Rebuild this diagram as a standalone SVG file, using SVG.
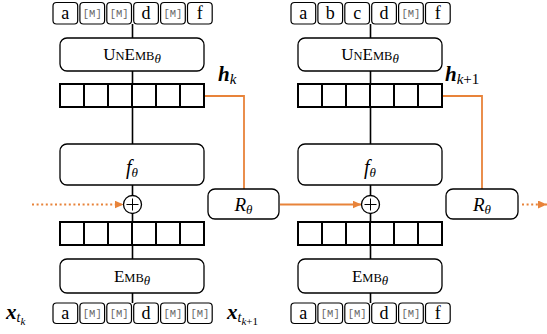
<svg xmlns="http://www.w3.org/2000/svg" width="547" height="334" viewBox="0 0 547 334">
<style>
.box{fill:#fff;stroke:#000;stroke-width:1.3}
.tok{fill:#fff;stroke:#000;stroke-width:1.2}
.vec{fill:#fff;stroke:#000;stroke-width:2}
.ln{stroke:#000;stroke-width:1.6;fill:none}
.or{stroke:#E8833A;stroke-width:1.8;fill:none}
.dot{stroke-dasharray:2 2.6}
.t{font-family:"Liberation Serif",serif;font-size:18px;text-anchor:middle;fill:#000}
.m{font-family:"Liberation Mono",monospace;font-size:10.5px;fill:#666;text-anchor:middle}
.lab{font-family:"Liberation Serif",serif;fill:#000}
.sc{font-size:12.5px}
.sub{font-size:13px;font-style:italic}
</style>
<defs>
<marker id="ah" markerWidth="9" markerHeight="8" refX="9" refY="4" orient="auto" markerUnits="userSpaceOnUse">
<path d="M0,0 L9,4 L0,8 z" fill="#E8833A"/>
</marker>
</defs>

<g id="connectors">
<line class="ln" x1="132.5" y1="24" x2="132.5" y2="303"/>
<line class="ln" x1="370.5" y1="24" x2="370.5" y2="303"/>
<path class="or" d="M204,96 H244 V189"/>
<path class="or" d="M442,96 H482 V189"/>
<line class="or dot" x1="32" y1="204.5" x2="123.5" y2="204.5" marker-end="url(#ah)"/>
<line class="or" x1="280" y1="204.5" x2="361.5" y2="204.5" marker-end="url(#ah)"/>
<line class="or dot" x1="522" y1="204.5" x2="547" y2="204.5" marker-end="url(#ah)"/>
</g>

<!-- left column -->
<g id="tokens-top-k">
<rect class="tok" x="53" y="2.5" width="24.7" height="21.5" rx="3.5"/>
<rect class="tok" x="79.9" y="2.5" width="24.7" height="21.5" rx="3.5"/>
<rect class="tok" x="106.8" y="2.5" width="24.7" height="21.5" rx="3.5"/>
<rect class="tok" x="133.7" y="2.5" width="24.7" height="21.5" rx="3.5"/>
<rect class="tok" x="160.6" y="2.5" width="24.7" height="21.5" rx="3.5"/>
<rect class="tok" x="187.5" y="2.5" width="24.7" height="21.5" rx="3.5"/>
<text class="t" x="65.35" y="19">a</text>
<text class="m" x="92.25" y="17">[M]</text>
<text class="m" x="119.15" y="17">[M]</text>
<text class="t" x="146.05" y="19">d</text>
<text class="m" x="172.95" y="17">[M]</text>
<text class="t" x="199.85" y="19">f</text>
</g>
<g id="unemb-k">
<rect class="box" x="60" y="38" width="144" height="33" rx="7"/>
<text class="lab" x="132" y="60" text-anchor="middle" font-size="17">U<tspan class="sc">N</tspan>E<tspan class="sc">MB</tspan><tspan class="sub" dy="3">θ</tspan></text>
</g>
<g id="hk">
<rect class="vec" x="60" y="84" width="144" height="23"/>
<path class="ln" style="stroke-width:2" d="M84,84V107M108,84V107M132,84V107M156,84V107M180,84V107"/>
<text class="lab" x="218" y="81" font-size="21" font-weight="bold" font-style="italic">h<tspan style="font-size:15px;font-weight:normal;font-style:italic" dy="3">k</tspan></text>
</g>
<g id="f-k">
<rect class="box" x="60" y="144" width="144" height="41" rx="7"/>
<text class="lab" x="132" y="174" text-anchor="middle" font-size="20" font-style="italic">f<tspan class="sub" dy="3">θ</tspan></text>
</g>
<g id="plus-k">
<circle cx="132.5" cy="204.5" r="9" fill="#fff" stroke="#000" stroke-width="1.3"/>
<path d="M126.5,204.5H138.5M132.5,198.5V210.5" stroke="#000" stroke-width="1"/>
</g>
<g id="emb-vec-k">
<rect class="vec" x="60" y="222" width="144" height="23"/>
<path class="ln" style="stroke-width:2" d="M84,222V245M108,222V245M132,222V245M156,222V245M180,222V245"/>
</g>
<g id="emb-k">
<rect class="box" x="60" y="259" width="144" height="34" rx="7"/>
<text class="lab" x="132" y="282" text-anchor="middle" font-size="17">E<tspan class="sc">MB</tspan><tspan class="sub" dy="3">θ</tspan></text>
</g>
<g id="r-k">
<rect class="box" x="208" y="189" width="71" height="30" rx="7"/>
<text class="lab" x="243.5" y="210.5" text-anchor="middle" font-size="19" font-style="italic">R<tspan class="sub" dy="3">θ</tspan></text>
</g>
<g id="tokens-bottom-k">
<text class="lab" x="6" y="319" font-size="21" font-weight="bold" font-style="italic">x<tspan style="font-size:14px;font-weight:normal" dy="3">t</tspan><tspan style="font-size:11px;font-weight:normal" dy="2.5">k</tspan></text>
<rect class="tok" x="53" y="303" width="24.7" height="20.5" rx="3.5"/>
<rect class="tok" x="79.9" y="303" width="24.7" height="20.5" rx="3.5"/>
<rect class="tok" x="106.8" y="303" width="24.7" height="20.5" rx="3.5"/>
<rect class="tok" x="133.7" y="303" width="24.7" height="20.5" rx="3.5"/>
<rect class="tok" x="160.6" y="303" width="24.7" height="20.5" rx="3.5"/>
<rect class="tok" x="187.5" y="303" width="24.7" height="20.5" rx="3.5"/>
<text class="t" x="65.35" y="319">a</text>
<text class="m" x="92.25" y="317">[M]</text>
<text class="m" x="119.15" y="317">[M]</text>
<text class="t" x="146.05" y="319">d</text>
<text class="m" x="172.95" y="317">[M]</text>
<text class="m" x="199.85" y="317">[M]</text>
</g>

<!-- right column -->
<g id="tokens-top-k1">
<rect class="tok" x="291" y="2.5" width="24.7" height="21.5" rx="3.5"/>
<rect class="tok" x="317.9" y="2.5" width="24.7" height="21.5" rx="3.5"/>
<rect class="tok" x="344.8" y="2.5" width="24.7" height="21.5" rx="3.5"/>
<rect class="tok" x="371.7" y="2.5" width="24.7" height="21.5" rx="3.5"/>
<rect class="tok" x="398.6" y="2.5" width="24.7" height="21.5" rx="3.5"/>
<rect class="tok" x="425.5" y="2.5" width="24.7" height="21.5" rx="3.5"/>
<text class="t" x="303.35" y="19">a</text>
<text class="t" x="330.25" y="19">b</text>
<text class="t" x="357.15" y="19">c</text>
<text class="t" x="384.05" y="19">d</text>
<text class="m" x="410.95" y="17">[M]</text>
<text class="t" x="437.85" y="19">f</text>
</g>
<g id="unemb-k1">
<rect class="box" x="298" y="38" width="144" height="33" rx="7"/>
<text class="lab" x="370" y="60" text-anchor="middle" font-size="17">U<tspan class="sc">N</tspan>E<tspan class="sc">MB</tspan><tspan class="sub" dy="3">θ</tspan></text>
</g>
<g id="hk1">
<rect class="vec" x="298" y="84" width="144" height="23"/>
<path class="ln" style="stroke-width:2" d="M322,84V107M346,84V107M370,84V107M394,84V107M418,84V107"/>
<text class="lab" x="445" y="81" font-size="21" font-weight="bold" font-style="italic">h<tspan style="font-size:15px;font-weight:normal;font-style:italic" dy="3">k<tspan style="font-style:normal">+1</tspan></tspan></text>
</g>
<g id="f-k1">
<rect class="box" x="298" y="144" width="144" height="41" rx="7"/>
<text class="lab" x="370" y="174" text-anchor="middle" font-size="20" font-style="italic">f<tspan class="sub" dy="3">θ</tspan></text>
</g>
<g id="plus-k1">
<circle cx="370.5" cy="204.5" r="9" fill="#fff" stroke="#000" stroke-width="1.3"/>
<path d="M364.5,204.5H376.5M370.5,198.5V210.5" stroke="#000" stroke-width="1"/>
</g>
<g id="emb-vec-k1">
<rect class="vec" x="298" y="222" width="144" height="23"/>
<path class="ln" style="stroke-width:2" d="M322,222V245M346,222V245M370,222V245M394,222V245M418,222V245"/>
</g>
<g id="emb-k1">
<rect class="box" x="298" y="259" width="144" height="34" rx="7"/>
<text class="lab" x="370" y="282" text-anchor="middle" font-size="17">E<tspan class="sc">MB</tspan><tspan class="sub" dy="3">θ</tspan></text>
</g>
<g id="r-k1">
<rect class="box" x="446" y="189" width="72" height="30" rx="7"/>
<text class="lab" x="482" y="210.5" text-anchor="middle" font-size="19" font-style="italic">R<tspan class="sub" dy="3">θ</tspan></text>
</g>
<g id="tokens-bottom-k1">
<text class="lab" x="227" y="319" font-size="21" font-weight="bold" font-style="italic">x<tspan style="font-size:14px;font-weight:normal" dy="3">t</tspan><tspan style="font-size:11px;font-weight:normal" dy="2.5">k<tspan style="font-style:normal">+1</tspan></tspan></text>
<rect class="tok" x="291" y="303" width="24.7" height="20.5" rx="3.5"/>
<rect class="tok" x="317.9" y="303" width="24.7" height="20.5" rx="3.5"/>
<rect class="tok" x="344.8" y="303" width="24.7" height="20.5" rx="3.5"/>
<rect class="tok" x="371.7" y="303" width="24.7" height="20.5" rx="3.5"/>
<rect class="tok" x="398.6" y="303" width="24.7" height="20.5" rx="3.5"/>
<rect class="tok" x="425.5" y="303" width="24.7" height="20.5" rx="3.5"/>
<text class="t" x="303.35" y="319">a</text>
<text class="m" x="330.25" y="317">[M]</text>
<text class="m" x="357.15" y="317">[M]</text>
<text class="t" x="384.05" y="319">d</text>
<text class="m" x="410.95" y="317">[M]</text>
<text class="t" x="437.85" y="319">f</text>
</g>
</svg>
